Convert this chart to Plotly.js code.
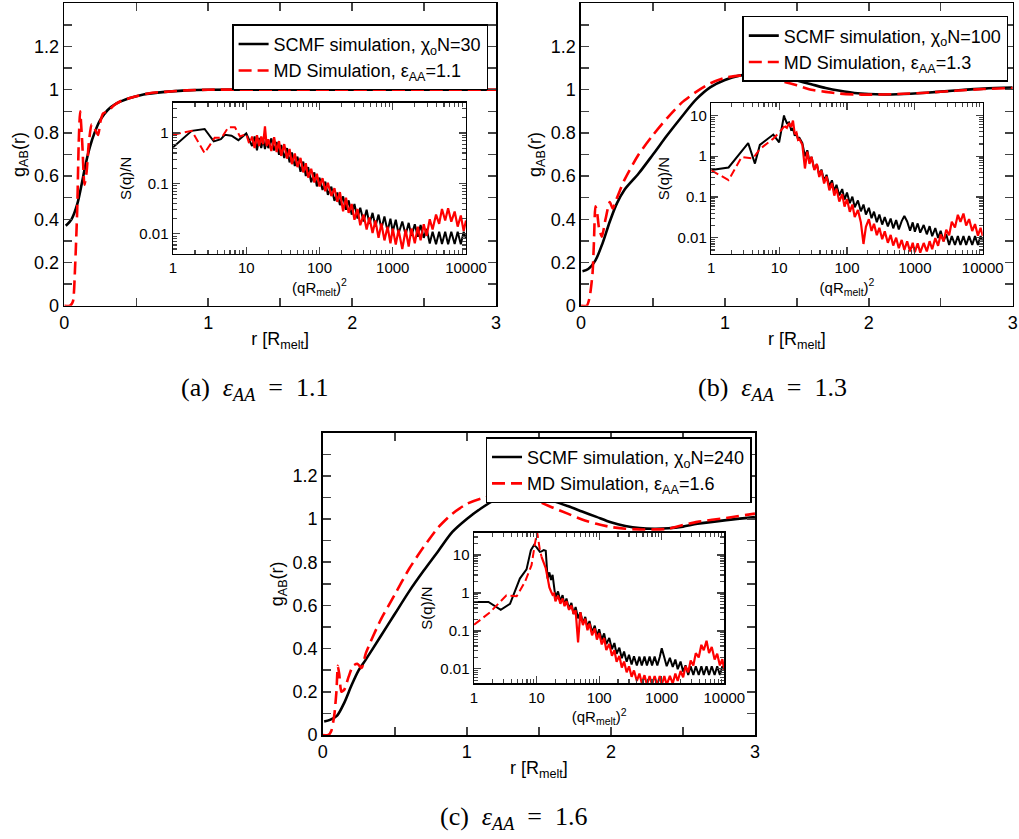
<!DOCTYPE html>
<html><head><meta charset="utf-8">
<script src="https://cdn.plot.ly/plotly-3.0.1.min.js"></script>
<style>html,body{margin:0;padding:0;background:#fff}#chart{width:1019px;height:839px}</style>
</head><body><div id="chart"></div>
<script>
// ---------- main panels: g_AB(r) ----------
const rA_scmf = [0.01,0.05,0.09,0.12,0.15,0.18,0.21,0.25,0.3,0.36,0.45,0.55,0.7,0.85,1.0,1.5,2.0,2.5,3.0];
const gA_scmf = [0.37,0.40,0.47,0.56,0.66,0.74,0.80,0.86,0.905,0.935,0.96,0.978,0.99,0.997,1.0,1.0,1.0,1.0,1.0];
const rA_md = [0.0,0.04,0.06,0.075,0.09,0.1,0.11,0.125,0.14,0.155,0.17,0.19,0.21,0.235,0.25,0.27,0.3,0.35,0.4,0.45,0.5,0.6,0.7,0.85,1.0,1.5,2.0,2.5,3.0];
const gA_md = [0.0,0.0,0.02,0.18,0.45,0.75,0.9,0.75,0.56,0.62,0.75,0.84,0.82,0.79,0.85,0.89,0.9,0.93,0.95,0.96,0.97,0.985,0.99,0.997,1.0,1.0,1.0,1.0,1.0];

const rB_scmf = [0.01,0.05,0.1,0.15,0.2,0.25,0.3,0.4,0.5,0.6,0.7,0.8,0.9,1.0,1.1,1.2,1.3,1.4,1.5,1.6,1.7,1.8,1.9,2.0,2.1,2.2,2.4,2.6,2.8,3.0];
const gB_scmf = [0.16,0.17,0.21,0.29,0.39,0.475,0.535,0.612,0.70,0.79,0.875,0.955,1.012,1.045,1.065,1.072,1.068,1.058,1.042,1.025,1.008,0.995,0.985,0.98,0.978,0.979,0.986,0.996,1.005,1.01];
const rB_md = [0,0.04,0.06,0.08,0.09,0.1,0.11,0.125,0.145,0.17,0.2,0.22,0.25,0.3,0.4,0.5,0.6,0.7,0.8,0.9,1.0,1.1,1.2,1.3,1.4,1.5,1.6,1.7,1.8,1.9,2.0,2.1,2.2,2.4,2.6,2.8,3.0];
const gB_md = [0,0,0.04,0.15,0.3,0.46,0.44,0.36,0.32,0.4,0.48,0.45,0.5,0.58,0.7,0.79,0.87,0.94,0.99,1.03,1.055,1.065,1.062,1.052,1.038,1.02,1.0,0.99,0.982,0.978,0.977,0.978,0.98,0.986,0.995,1.003,1.008];

const rC_scmf = [0.01,0.05,0.1,0.15,0.2,0.25,0.3,0.4,0.5,0.6,0.7,0.8,0.9,1.0,1.1,1.2,1.3,1.4,1.5,1.6,1.7,1.8,1.9,2.0,2.1,2.2,2.3,2.4,2.5,2.6,2.8,3.0];
const gC_scmf = [0.062,0.07,0.09,0.15,0.23,0.3,0.35,0.455,0.56,0.665,0.76,0.85,0.94,1.0,1.05,1.09,1.11,1.112,1.1,1.083,1.06,1.035,1.01,0.985,0.968,0.958,0.955,0.957,0.965,0.978,0.995,1.009];
const rC_md = [0,0.04,0.06,0.08,0.095,0.105,0.115,0.13,0.15,0.18,0.21,0.24,0.27,0.3,0.4,0.5,0.6,0.7,0.8,0.9,1.0,1.1,1.2,1.3,1.4,1.5,1.6,1.7,1.8,1.9,2.0,2.1,2.2,2.3,2.4,2.5,2.6,2.8,3.0];
const gC_md = [0,0,0.02,0.09,0.2,0.32,0.28,0.2,0.21,0.27,0.32,0.33,0.31,0.38,0.53,0.65,0.77,0.87,0.96,1.025,1.07,1.095,1.11,1.112,1.1,1.08,1.052,1.025,0.998,0.978,0.963,0.955,0.952,0.952,0.955,0.972,0.987,1.005,1.025];

// ---------- insets: S(q)/N vs (qR_melt)^2 ----------
const qLowA_scmf = [1,1.8,2.7,3.6,4.5,5.1,6.3,7.8,10,11];
const sLowA_scmf = [0.52,1.1,1.2,0.68,0.75,0.92,0.88,0.72,0.98,0.7];
const qLowA_md = [1,1.8,2.7,3.7,4.6,5.7,7.0,8.2,10,11,12];
const sLowA_md = [0.92,1.1,0.4,0.8,0.8,1.3,1.3,0.85,0.95,0.6,0.85];

const qLowB_scmf = [1,1.8,3.5,4.4,5.2,6.5,8.2,10,11.8];
const sLowB_scmf = [0.46,0.53,2.1,0.66,1.9,2.5,3.4,2.2,10];
const qLowB_md = [1,1.8,2.8,4.1,5.2,6.5,8.2,10,11.5,12];
const sLowB_md = [0.45,0.26,0.95,0.88,1.5,2.0,2.7,3.8,5.0,5.5];

const qLowC_scmf = [1,1.7,2.67,3.76,5.4,6.9,8.1,9.1,10,11.3];
const sLowC_scmf = [0.58,0.58,0.36,0.52,2.4,4.2,13.5,18.4,16,12.2];
const qLowC_md = [1,1.8,3.3,4.8,6.5,8.3,9.4,10.2,11.3,12];
const sLowC_md = [0.145,0.31,0.87,0.82,1.95,5.4,20,40,13.5,9];

const q2Dense = [12,13,14,15,16,17,18,19,20,22,24,26,28,30,33,36,39,42,46,50,55,60,65,70,77,85,92,100,110,120,130,145,160,175,190,210,230,250,275,300,330,360,400,440,480,530,580,640,700,770,850,930,1000,1100,1200,1350,1500,1650,1800,2000,2200,2400,2650,2900,3200,3500,3900,4300,4700,5200,5700,6300,7000,7700,8500,9300,10000];

const sA_scmf = [0.55,0.85,0.45,0.8,0.5,0.75,0.48,0.7,0.5,0.78,0.45,0.66,0.37,0.58,0.32,0.5,0.26,0.41,0.22,0.34,0.17,0.27,0.14,0.21,0.105,0.165,0.087,0.13,0.074,0.108,0.059,0.086,0.045,0.066,0.037,0.055,0.03,0.046,0.024,0.039,0.02,0.033,0.0175,0.03,0.0157,0.026,0.014,0.024,0.0126,0.022,0.0113,0.02,0.011,0.019,0.01,0.0175,0.0096,0.0165,0.0091,0.0155,0.0087,0.015,0.0083,0.0125,0.0064,0.011,0.0062,0.011,0.0063,0.011,0.0062,0.011,0.0063,0.011,0.0062,0.011,0.008];
const sA_md = [0.85,0.5,0.9,0.55,0.85,0.6,1.35,0.55,0.75,0.44,0.82,0.42,0.69,0.35,0.6,0.31,0.48,0.24,0.39,0.21,0.32,0.165,0.25,0.13,0.195,0.104,0.155,0.087,0.127,0.07,0.103,0.056,0.08,0.043,0.067,0.028,0.052,0.026,0.039,0.019,0.031,0.0148,0.024,0.0122,0.021,0.0104,0.0184,0.0083,0.016,0.0074,0.0138,0.0065,0.0127,0.0061,0.012,0.005,0.012,0.0056,0.0127,0.0065,0.0138,0.0074,0.0155,0.0091,0.0195,0.0122,0.024,0.0157,0.031,0.0183,0.032,0.0174,0.0276,0.0139,0.023,0.0113,0.0184];

const sB_scmf = [9.0,6.5,6.8,4.5,4.8,3.2,3.6,2.6,2.8,2.1,1.0,1.4,0.74,0.96,0.48,0.64,0.34,0.47,0.25,0.35,0.18,0.256,0.137,0.2,0.109,0.156,0.086,0.128,0.07,0.102,0.056,0.082,0.0445,0.065,0.037,0.054,0.03,0.0435,0.024,0.037,0.021,0.032,0.019,0.0295,0.017,0.027,0.016,0.0256,0.034,0.025,0.0148,0.0237,0.014,0.0224,0.0133,0.0205,0.0121,0.0192,0.0109,0.0173,0.0098,0.0147,0.0082,0.0122,0.0066,0.0109,0.0066,0.0109,0.0066,0.0109,0.0066,0.0109,0.0066,0.0109,0.0066,0.0109,0.0085];
const sB_md = [5.5,5.0,6.5,5.2,7.5,3.5,3.8,2.5,2.6,1.9,0.5,1.3,0.65,0.97,0.46,0.65,0.31,0.45,0.215,0.32,0.146,0.22,0.108,0.16,0.077,0.117,0.058,0.088,0.043,0.065,0.032,0.048,0.024,0.007,0.0185,0.0285,0.0146,0.022,0.0115,0.0175,0.0092,0.0143,0.0075,0.0117,0.0064,0.01,0.0055,0.0088,0.005,0.0081,0.0046,0.0075,0.0044,0.0073,0.0043,0.0074,0.0046,0.0082,0.0052,0.0098,0.0063,0.012,0.0081,0.0156,0.0115,0.0247,0.0177,0.0364,0.0246,0.039,0.02,0.0286,0.0146,0.0215,0.0112,0.0175,0.011];

const sC_scmf = [12.5,13.5,13.0,2.4,3.5,2.2,3.0,1.25,0.77,1.1,0.6,0.88,0.48,0.72,0.38,0.55,0.28,0.43,0.215,0.31,0.16,0.234,0.123,0.182,0.092,0.137,0.073,0.11,0.058,0.086,0.045,0.065,0.033,0.048,0.025,0.036,0.019,0.0286,0.0154,0.0234,0.013,0.0215,0.0123,0.021,0.0123,0.021,0.0123,0.021,0.0123,0.021,0.0123,0.0205,0.035,0.02,0.0118,0.0195,0.0112,0.0176,0.0098,0.0156,0.0085,0.0124,0.0069,0.0117,0.0069,0.0117,0.0069,0.0117,0.0069,0.0117,0.0069,0.0117,0.0069,0.0117,0.0069,0.0117,0.0095];
const sC_md = [9,6,4.5,2.5,1.4,1.1,0.9,0.97,0.6,0.85,0.52,0.72,0.45,0.61,0.36,0.47,0.28,0.35,0.05,0.31,0.142,0.21,0.104,0.156,0.077,0.117,0.059,0.088,0.044,0.065,0.0315,0.0455,0.022,0.031,0.0154,0.022,0.0108,0.0156,0.0081,0.0117,0.0062,0.0091,0.0048,0.0075,0.0042,0.0068,0.0038,0.0065,0.0038,0.0065,0.0038,0.0065,0.0038,0.0065,0.0038,0.0065,0.0041,0.0075,0.0048,0.0088,0.006,0.0117,0.0081,0.0166,0.0123,0.026,0.02,0.043,0.031,0.055,0.026,0.038,0.0177,0.025,0.0123,0.018,0.0092];

// ---------- labels ----------
const legendSCMF = ['SCMF simulation, χ<sub>o</sub>N=30','SCMF simulation, χ<sub>o</sub>N=100','SCMF simulation, χ<sub>o</sub>N=240'];
const legendMD = ['MD Simulation, ε<sub>AA</sub>=1.1','MD Simulation, ε<sub>AA</sub>=1.3','MD Simulation, ε<sub>AA</sub>=1.6'];
const captions = ['(a)&nbsp;&nbsp;<i>ε<sub>AA</sub></i>&nbsp;&nbsp;=&nbsp;&nbsp;1.1','(b)&nbsp;&nbsp;<i>ε<sub>AA</sub></i>&nbsp;&nbsp;=&nbsp;&nbsp;1.3','(c)&nbsp;&nbsp;<i>ε<sub>AA</sub></i>&nbsp;&nbsp;=&nbsp;&nbsp;1.6'];
const mainXTicks = [0,1,2,3];
const mainYTicks = [0,0.2,0.4,0.6,0.8,1,1.2];
const mainYTickText = ['0','0.2','0.4','0.6','0.8','1','1.2'];
const insetXTicks = [1,10,100,1000,10000];
const insetXTickText = ['1','10','100','1000','10000'];

// ---------- build ----------
const BLACK = '#000000', RED = '#ff0000';
const FONT = 'Liberation Sans, Arial, Helvetica, sans-serif';
const SERIF = 'Liberation Serif, Times New Roman, serif';
const traces = [];
const mains = [
  {rs:rA_scmf, gs:gA_scmf, rm:rA_md, gm:gA_md, ax:'', leg:'legend'},
  {rs:rB_scmf, gs:gB_scmf, rm:rB_md, gm:gB_md, ax:'3', leg:'legend2'},
  {rs:rC_scmf, gs:gC_scmf, rm:rC_md, gm:gC_md, ax:'5', leg:'legend3'}
];
mains.forEach((m,i)=>{
  traces.push({x:m.rs, y:m.gs, xaxis:'x'+m.ax, yaxis:'y'+m.ax, mode:'lines', name:legendSCMF[i], legend:m.leg,
    line:{color:BLACK, width:2.6, shape:'spline', smoothing:0.8}});
  traces.push({x:m.rm, y:m.gm, xaxis:'x'+m.ax, yaxis:'y'+m.ax, mode:'lines', name:legendMD[i], legend:m.leg,
    line:{color:RED, width:2.6, dash:'13px,6px', shape:'spline', smoothing:0.6}});
});
const insets = [
  {qs:qLowA_scmf, ss:sLowA_scmf, qm:qLowA_md, sm:sLowA_md, ds:sA_scmf, dm:sA_md, ax:'2'},
  {qs:qLowB_scmf, ss:sLowB_scmf, qm:qLowB_md, sm:sLowB_md, ds:sB_scmf, dm:sB_md, ax:'4'},
  {qs:qLowC_scmf, ss:sLowC_scmf, qm:qLowC_md, sm:sLowC_md, ds:sC_scmf, dm:sC_md, ax:'6'}
];
insets.forEach(s=>{
  traces.push({x:s.qs.concat(q2Dense), y:s.ss.concat(s.ds), xaxis:'x'+s.ax, yaxis:'y'+s.ax, mode:'lines', showlegend:false,
    line:{color:BLACK, width:2}});
  traces.push({x:s.qm, y:s.sm, xaxis:'x'+s.ax, yaxis:'y'+s.ax, mode:'lines', showlegend:false,
    line:{color:RED, width:2, dash:'8px,4px'}});
  traces.push({x:q2Dense, y:s.dm, xaxis:'x'+s.ax, yaxis:'y'+s.ax, mode:'lines', showlegend:false,
    line:{color:RED, width:2.2}});
});

function logMinor(lo, hi){ const v=[]; for(let e=lo;e<hi;e++){ for(let d=2;d<=9;d++) v.push(d*Math.pow(10,e)); } return v; }

function mainX(dom, anchor){
  return {domain:dom, anchor:anchor, range:[0,3], tickmode:'array', tickvals:mainXTicks, ticks:'inside', ticklen:8, tickwidth:1.5,
    minor:{tickmode:'array', tickvals:[0.5,1.5,2.5], ticks:'inside', ticklen:8, tickwidth:1.5, showgrid:false},
    showline:true, linewidth:1.6, linecolor:BLACK, mirror:'allticks', showgrid:false, zeroline:false,
    tickfont:{family:FONT, size:18, color:BLACK},
    title:{text:'r [R<sub>melt</sub>]', font:{family:FONT, size:18, color:BLACK}, standoff:0}};
}
function mainY(dom, anchor){
  return {domain:dom, anchor:anchor, range:[0,1.4], tickmode:'array', tickvals:mainYTicks, ticktext:mainYTickText, ticks:'inside', ticklen:8, tickwidth:1.5,
    minor:{tickmode:'array', tickvals:[0.1,0.3,0.5,0.7,0.9,1.1,1.3], ticks:'inside', ticklen:8, tickwidth:1.5, showgrid:false},
    showline:true, linewidth:1.6, linecolor:BLACK, mirror:'allticks', showgrid:false, zeroline:false,
    tickfont:{family:FONT, size:18, color:BLACK},
    title:{text:'g<sub>AB</sub>(r)', font:{family:FONT, size:18, color:BLACK}, standoff:4}};
}
function insetX(dom, anchor){
  return {type:'log', domain:dom, anchor:anchor, range:[0,4], tickmode:'array', tickvals:insetXTicks, ticktext:insetXTickText,
    ticks:'inside', ticklen:7, tickwidth:1.2,
    minor:{tickmode:'array', tickvals:logMinor(0,4), ticks:'inside', ticklen:4, tickwidth:1.2, showgrid:false},
    showline:true, linewidth:1.5, linecolor:BLACK, mirror:'allticks', showgrid:false, zeroline:false,
    tickfont:{family:FONT, size:15, color:BLACK},
    title:{text:'(qR<sub>melt</sub>)<sup>2</sup>', font:{family:FONT, size:15, color:BLACK}, standoff:0}};
}
function insetY(dom, anchor, range, vals, txt){
  return {type:'log', domain:dom, anchor:anchor, range:range, tickmode:'array', tickvals:vals, ticktext:txt,
    ticks:'inside', ticklen:7, tickwidth:1.2,
    minor:{tickmode:'array', tickvals:logMinor(-3,2), ticks:'inside', ticklen:4, tickwidth:1.2, showgrid:false},
    showline:true, linewidth:1.5, linecolor:BLACK, mirror:'allticks', showgrid:false, zeroline:false,
    tickfont:{family:FONT, size:15, color:BLACK},
    title:{text:'S(q)/N', font:{family:FONT, size:15, color:BLACK}, standoff:4}};
}
function legendBox(xr, yt){
  return {x:xr, xanchor:'right', y:yt, yanchor:'top', bgcolor:'#ffffff', bordercolor:BLACK, borderwidth:1.5,
    font:{family:FONT, size:18, color:BLACK}, itemwidth:30, tracegroupgap:0};
}
function caption(txt, x, y){
  return {text:txt, x:x, y:y, xref:'paper', yref:'paper', xanchor:'center', yanchor:'middle', showarrow:false,
    font:{family:SERIF, size:26, color:BLACK}};
}

const layout = {
  width:1019, height:839, margin:{l:0,r:0,t:0,b:0}, paper_bgcolor:'#ffffff', plot_bgcolor:'#ffffff',
  font:{family:FONT, color:BLACK},
  xaxis: mainX([0.0631,0.4868],'y'),  yaxis: mainY([0.6356,0.9961],'x'),
  xaxis3: mainX([0.5702,0.9938],'y3'), yaxis3: mainY([0.6356,0.9961],'x3'),
  xaxis5: mainX([0.3167,0.7409],'y5'), yaxis5: mainY([0.1240,0.4843],'x5'),
  xaxis2: insetX([0.1698,0.4573],'y2'), yaxis2: insetY([0.6973,0.8776],'x2',[-2.4,0.6],[0.01,0.1,1],['0.01','0.1','1']),
  xaxis4: insetX([0.6980,0.9644],'y4'), yaxis4: insetY([0.6973,0.8769],'x4',[-2.4,1.3],[0.01,0.1,1,10],['0.01','0.1','1','10']),
  xaxis6: insetX([0.4652,0.7108],'y6'), yaxis6: insetY([0.1856,0.3651],'x6',[-2.38,1.59],[0.01,0.1,1,10],['0.01','0.1','1','10']),
  legend: legendBox(0.479, 0.971),
  legend2: legendBox(0.9895, 0.981),
  legend3: legendBox(0.7375, 0.4788),
  annotations: [
    caption(captions[0], 0.2507, 0.5364),
    caption(captions[1], 0.7581, 0.5364),
    caption(captions[2], 0.5044, 0.0250)
  ],
  showlegend:true
};
Plotly.newPlot('chart', traces, layout, {displayModeBar:false, staticPlot:true});
</script></body></html>
